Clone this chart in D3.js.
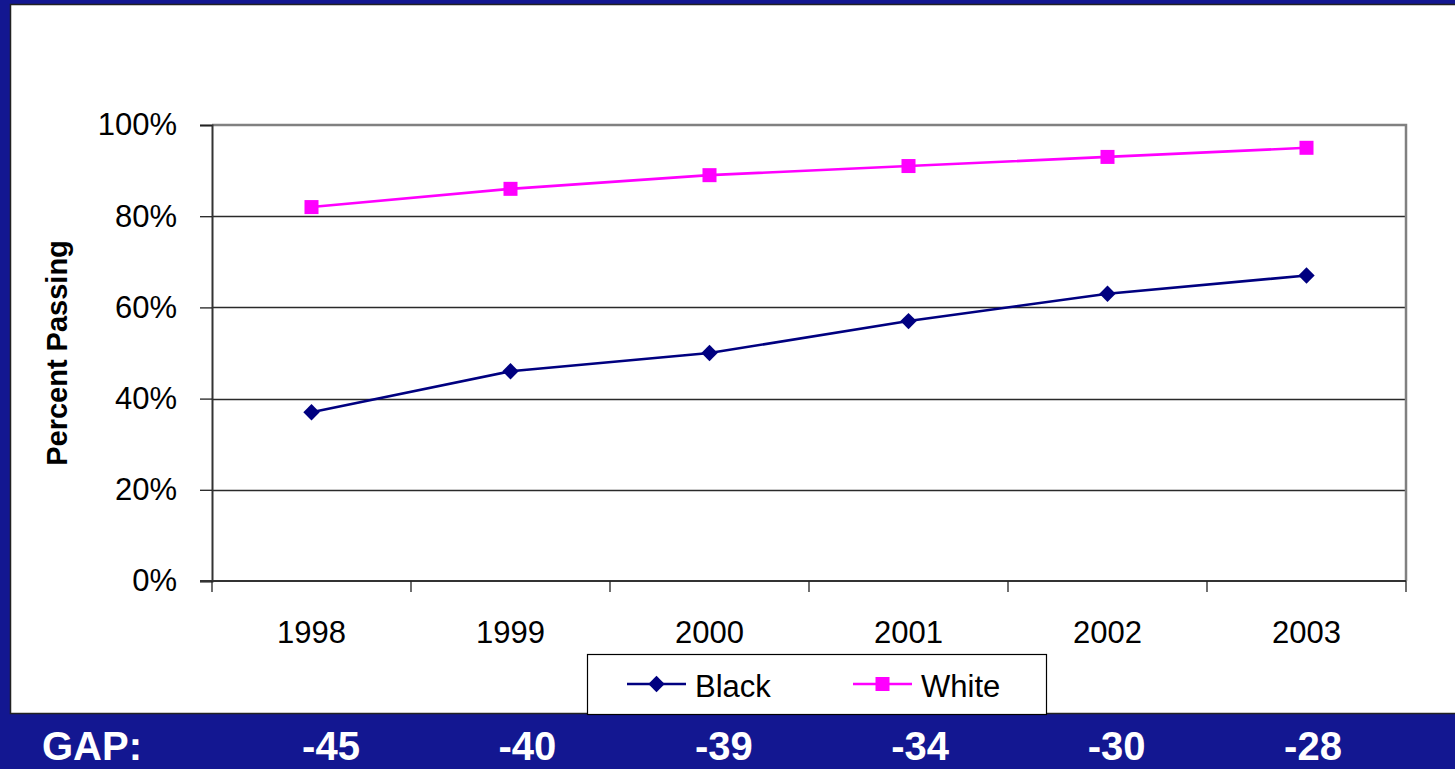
<!DOCTYPE html>
<html>
<head>
<meta charset="utf-8">
<script src="https://cdn.jsdelivr.net/npm/d3@7"></script>
<style>
  html, body { margin: 0; padding: 0; background: #131791; }
  svg { display: block; font-family: Arial, "Liberation Sans", sans-serif; }
</style>
</head>
<body>
<svg id="chart" width="1455" height="769"></svg>
<script>
// Pass rates by year
const years = ["1998", "1999", "2000", "2001", "2002", "2003"];
const blackPct = [0.37, 0.46, 0.50, 0.57, 0.63, 0.67];
const whitePct = [0.82, 0.86, 0.89, 0.91, 0.93, 0.95];
const gapValues = [-45, -40, -39, -34, -30, -28];
const yTicks = [0, 0.2, 0.4, 0.6, 0.8, 1.0];

const W = 1455, H = 769;
const svg = d3.select("#chart");

// slide background and white chart panel
svg.append("rect").attr("width", W).attr("height", H).attr("fill", "#131791");
svg.append("rect")
  .attr("x", 10.5).attr("y", 4.5).attr("width", W).attr("height", 709)
  .attr("fill", "#fff").attr("stroke", "#222").attr("stroke-width", 1.5);

const plot = { left: 212, right: 1406, top: 125, bottom: 581 };

const x = d3.scaleBand().domain(years).range([plot.left, plot.right]).padding(0);
const y = d3.scaleLinear().domain([0, 1]).range([plot.bottom, plot.top]);
const cx = d => x(d) + x.bandwidth() / 2;

// horizontal gridlines
svg.append("g").selectAll("line")
  .data(yTicks.filter(t => t > 0 && t < 1))
  .join("line")
  .attr("x1", plot.left).attr("x2", plot.right)
  .attr("y1", d => Math.round(y(d)) + 0.5).attr("y2", d => Math.round(y(d)) + 0.5)
  .attr("stroke", "#2a2a2a").attr("stroke-width", 1.3);

// plot area frame (top and right)
svg.append("path")
  .attr("d", `M${plot.left},${plot.top}H${plot.right}V${plot.bottom}`)
  .attr("fill", "none").attr("stroke", "#808080").attr("stroke-width", 2.5);

// y axis
const yAxis = d3.axisLeft(y).tickValues(yTicks).tickFormat(d3.format(".0%")).tickSize(12).tickPadding(23);
const gy = svg.append("g").attr("transform", `translate(${plot.left},0)`).call(yAxis);
gy.select(".domain").attr("stroke", "#333").attr("stroke-width", 2);
gy.selectAll(".tick line").attr("stroke", "#222").attr("stroke-width", 1.3);
gy.selectAll(".tick text")
  .attr("font-size", 31).attr("fill", "#000")
  .attr("font-family", "Arial, 'Liberation Sans', sans-serif");

// x axis: baseline, boundary ticks, centred labels
const gx = svg.append("g");
gx.append("line")
  .attr("x1", plot.left - 12).attr("x2", plot.right)
  .attr("y1", plot.bottom).attr("y2", plot.bottom)
  .attr("stroke", "#333").attr("stroke-width", 2);
const boundaries = years.map(d => x(d)).concat([plot.right]);
gx.selectAll("line.tick").data(boundaries).join("line")
  .attr("class", "tick")
  .attr("x1", d => d).attr("x2", d => d)
  .attr("y1", plot.bottom).attr("y2", plot.bottom + 11)
  .attr("stroke", "#222").attr("stroke-width", 1.3);
gx.selectAll("text").data(years).join("text")
  .attr("x", d => cx(d)).attr("y", 643)
  .attr("text-anchor", "middle").attr("font-size", 31).attr("fill", "#000")
  .text(d => d);

// y axis title
svg.append("text")
  .attr("transform", `translate(67,${(plot.top + plot.bottom) / 2}) rotate(-90)`)
  .attr("text-anchor", "middle")
  .attr("font-size", 29).attr("font-weight", "bold").attr("fill", "#000")
  .text("Percent Passing");

// series
const series = [
  { name: "Black", values: blackPct, color: "#000080", symbol: d3.symbolDiamond2, size: 170 },
  { name: "White", values: whitePct, color: "#ff00ff", symbol: d3.symbolSquare2, size: 250 }
];

const line = d3.line().x(d => cx(d.year)).y(d => y(d.v));
series.forEach(s => {
  const pts = years.map((yr, i) => ({ year: yr, v: s.values[i] }));
  svg.append("path").datum(pts)
    .attr("d", line).attr("fill", "none")
    .attr("stroke", s.color).attr("stroke-width", 2.6);
  svg.append("g").selectAll("path").data(pts).join("path")
    .attr("transform", d => `translate(${cx(d.year)},${y(d.v)})`)
    .attr("d", d3.symbol().type(s.symbol).size(s.size))
    .attr("fill", s.color);
});

// legend
const lg = svg.append("g");
lg.append("rect")
  .attr("x", 587.5).attr("y", 654.5).attr("width", 459).attr("height", 60)
  .attr("fill", "#fff").attr("stroke", "#000").attr("stroke-width", 1.2);
const legendItems = [
  { s: series[0], x0: 627, textX: 695 },
  { s: series[1], x0: 853, textX: 921 }
];
legendItems.forEach(it => {
  lg.append("line")
    .attr("x1", it.x0).attr("x2", it.x0 + 59)
    .attr("y1", 684).attr("y2", 684)
    .attr("stroke", it.s.color).attr("stroke-width", 2.6);
  lg.append("path")
    .attr("transform", `translate(${it.x0 + 29.5},684)`)
    .attr("d", d3.symbol().type(it.s.symbol).size(it.s.size))
    .attr("fill", it.s.color);
  lg.append("text")
    .attr("x", it.textX).attr("y", 697)
    .attr("font-size", 31).attr("fill", "#000")
    .text(it.s.name);
});

// gap row along the bottom band
const gapX = d3.scalePoint().domain(years).range([331, 1313]);
svg.append("text")
  .attr("x", 42).attr("y", 760)
  .attr("font-size", 40).attr("font-weight", "bold").attr("fill", "#fff")
  .text("GAP:");
svg.append("g").selectAll("text").data(years).join("text")
  .attr("x", d => gapX(d)).attr("y", 760)
  .attr("text-anchor", "middle")
  .attr("font-size", 40).attr("font-weight", "bold").attr("fill", "#fff")
  .text((d, i) => gapValues[i]);
</script>
</body>
</html>
